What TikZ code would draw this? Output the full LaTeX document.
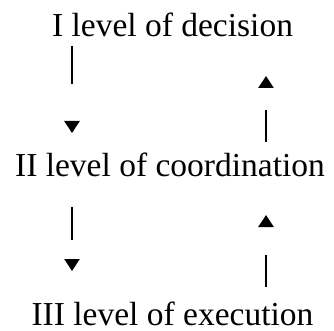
\documentclass[tikz,border=0pt]{standalone}
\usepackage{fontspec}
\setmainfont{Liberation Serif}
\usetikzlibrary{arrows.meta}
\begin{document}
\begin{tikzpicture}[x=1pt,y=-1pt,
  level/.style={anchor=base,inner sep=0pt,font=\fontsize{33.5}{36}\selectfont},
  gaparrow/.style={line width=2.8pt,-{Triangle[width=15pt,length=12pt]}}]
\useasboundingbox (0,0) rectangle (334,331);
\node[level] (top) at (172.5,37) {I level of decision};
\node[level] (mid) at (170,176) {II level of coordination};
\node[level] (bot) at (172.5,325) {III level of execution};
% arrow end points
\coordinate (d1s) at (72,46);  \coordinate (d1e) at (72,133);
\coordinate (u1s) at (266,142); \coordinate (u1e) at (266,76);
\coordinate (d2s) at (72,207); \coordinate (d2e) at (72,271);
\coordinate (u2s) at (266,287); \coordinate (u2e) at (266,215);
\draw[gaparrow,dash pattern=on 38pt off 200pt] (d1s) -- (d1e);
\draw[gaparrow,dash pattern=on 32pt off 200pt] (u1s) -- (u1e);
\draw[gaparrow,dash pattern=on 33pt off 200pt] (d2s) -- (d2e);
\draw[gaparrow,dash pattern=on 32pt off 200pt] (u2s) -- (u2e);
\end{tikzpicture}
\end{document}
